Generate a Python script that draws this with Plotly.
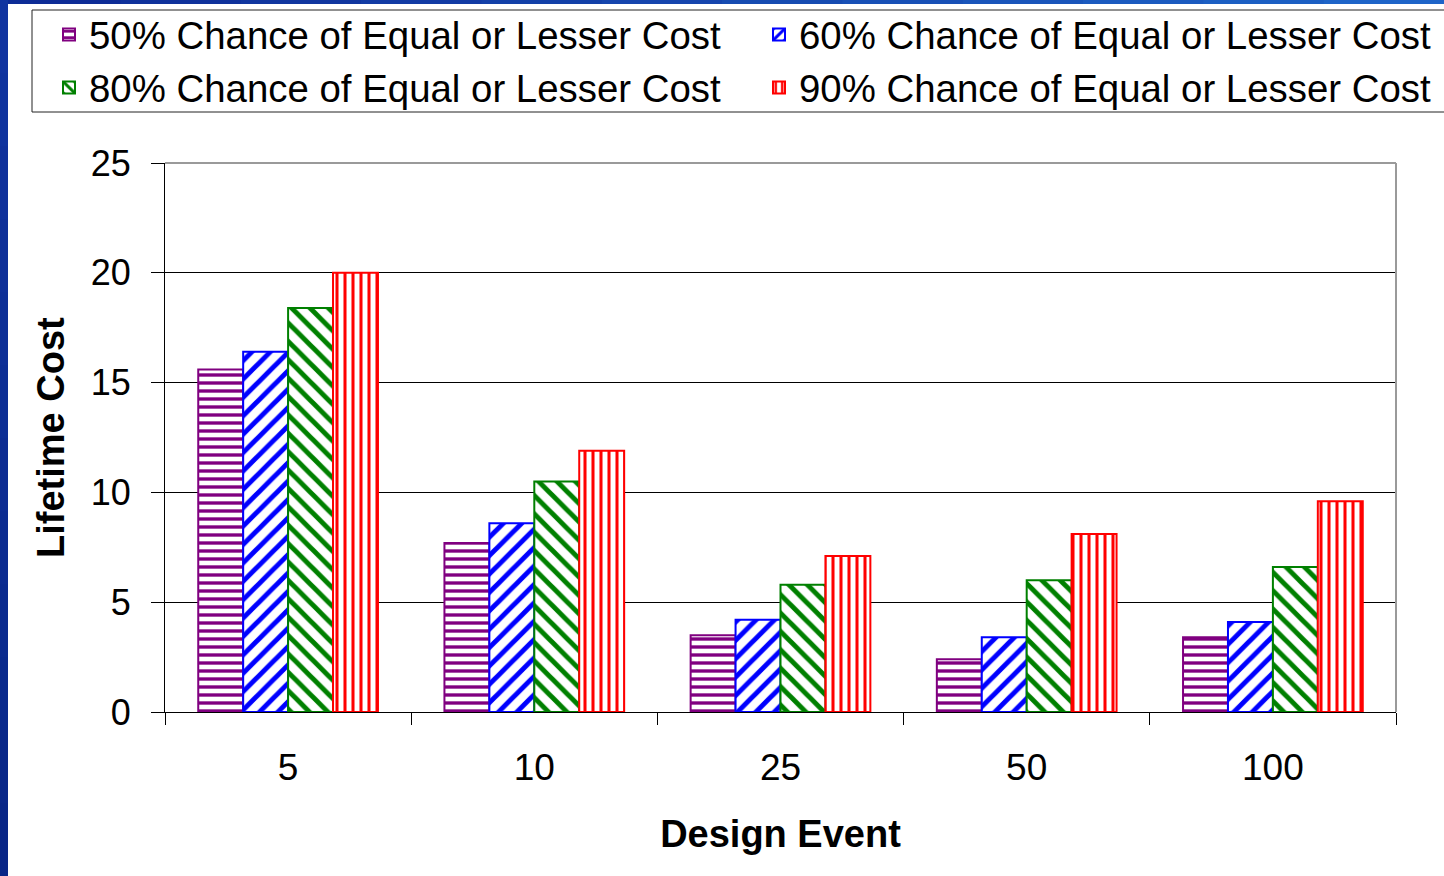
import plotly.graph_objects as go

# Design events (return period) and lifetime cost at each confidence level
design_events = ["5", "10", "25", "50", "100"]
cost_50 = [15.6, 7.7, 3.5, 2.4, 3.4]
cost_60 = [16.4, 8.6, 4.2, 3.4, 4.1]
cost_80 = [18.4, 10.5, 5.8, 6.0, 6.6]
cost_90 = [20.0, 11.9, 7.1, 8.1, 9.6]

series_names = [
    "50% Chance of Equal or Lesser Cost",
    "60% Chance of Equal or Lesser Cost",
    "80% Chance of Equal or Lesser Cost",
    "90% Chance of Equal or Lesser Cost",
]
series_values = [cost_50, cost_60, cost_80, cost_90]
series_colors = ["#800080", "#0000FF", "#008000", "#FF0000"]
series_shapes = ["-", "/", "\\", "|"]
series_sizes = [8, 13, 13, 8]
series_solidity = [0.42, 0.38, 0.38, 0.38]
# legend column for each series: left column holds 50% / 80%, right holds 60% / 90%
series_legend = ["legend", "legend2", "legend", "legend2"]

W, H = 1444, 876
ML, MR, MT, MB = 165, 48, 163, 164
PW, PH = W - ML - MR, H - MT - MB

FONT = "Liberation Sans, Arial, sans-serif"

fig = go.Figure()
for name, vals, col, shp, sz, sol, lg in zip(series_names, series_values, series_colors,
                                              series_shapes, series_sizes, series_solidity,
                                              series_legend):
    fig.add_trace(go.Bar(
        x=design_events, y=vals, name=name, legend=lg,
        marker=dict(
            color="white",
            line=dict(color=col, width=2),
            pattern=dict(shape=shp, fgcolor=col, bgcolor="white",
                         size=sz, solidity=sol, fillmode="replace"),
        ),
    ))


def px_x(p):
    return (p - ML) / PW


def px_y(p):
    return (H - MB - p) / PH


shapes = []
# legend frame
shapes.append(dict(type="rect", xref="paper", yref="paper", layer="below",
                   x0=px_x(32), x1=px_x(W + 10), y0=px_y(112), y1=px_y(10),
                   line=dict(color="#222222", width=1), fillcolor="white"))
# blue frame strips along the left and top edges
n_seg = 12
top_start, top_end = (13, 44, 150), (30, 100, 200)
for i in range(n_seg):
    t = i / (n_seg - 1)
    c = tuple(round(a + (b - a) * t) for a, b in zip(top_start, top_end))
    shapes.append(dict(type="rect", xref="paper", yref="paper", layer="above",
                       x0=px_x(W * i / n_seg), x1=px_x(W * (i + 1) / n_seg + 1),
                       y0=px_y(4), y1=px_y(0), line=dict(width=0),
                       fillcolor="rgb(%d,%d,%d)" % c))
left_top, left_bot = (16, 52, 160), (8, 38, 135)
for i in range(n_seg):
    t = i / (n_seg - 1)
    c = tuple(round(a + (b - a) * t) for a, b in zip(left_top, left_bot))
    shapes.append(dict(type="rect", xref="paper", yref="paper", layer="above",
                       x0=px_x(0), x1=px_x(8),
                       y0=px_y(H * (i + 1) / n_seg + 1), y1=px_y(H * i / n_seg),
                       line=dict(width=0), fillcolor="rgb(%d,%d,%d)" % c))
# grey plot-area border on the top and right sides
shapes.append(dict(type="line", xref="paper", yref="paper", layer="above",
                   x0=0, x1=1, y0=1, y1=1, line=dict(color="#9a9a9a", width=2)))
shapes.append(dict(type="line", xref="paper", yref="paper", layer="above",
                   x0=1, x1=1, y0=0, y1=1, line=dict(color="#9a9a9a", width=2)))

legend_common = dict(
    orientation="v",
    xref="container", yref="container",
    xanchor="left", yanchor="top",
    bgcolor="rgba(0,0,0,0)", borderwidth=0,
    font=dict(family=FONT, size=38.4, color="black"),
    indentation=17,
    traceorder="normal",
)
LEG_TOP = 3
fig.update_layout(
    width=W, height=H,
    margin=dict(l=ML, r=MR, t=MT, b=MB, autoexpand=False),
    paper_bgcolor="white", plot_bgcolor="white",
    font=dict(family=FONT, color="black"),
    barmode="group", bargap=0.27, bargroupgap=0,
    shapes=shapes,
    showlegend=True,
    legend=dict(x=32 / W, y=1 - LEG_TOP / H, **legend_common),
    legend2=dict(x=(32 + 710) / W, y=1 - LEG_TOP / H, **legend_common),
    annotations=[dict(
        text="<b>Lifetime Cost</b>", textangle=-90,
        xref="paper", yref="paper", x=px_x(51), y=px_y(438),
        xanchor="center", yanchor="middle", showarrow=False,
        font=dict(family=FONT, size=38, color="black"),
    )],
    xaxis=dict(
        type="category",
        ticks="outside", ticklen=12, tickcolor="black", tickwidth=1,
        tickson="boundaries",
        ticklabelstandoff=23,
        showline=True, linecolor="black", linewidth=1,
        showgrid=False,
        tickfont=dict(family=FONT, size=37, color="black"),
        title=dict(text="<b>Design Event</b>", standoff=32,
                   font=dict(family=FONT, size=38, color="black")),
    ),
    yaxis=dict(
        range=[0, 25], dtick=5,
        ticks="outside", ticklen=13, tickcolor="black", tickwidth=1,
        ticklabelstandoff=13,
        showline=True, linecolor="black", linewidth=1,
        showgrid=True, gridcolor="black", gridwidth=1,
        zeroline=False,
        tickfont=dict(family=FONT, size=36, color="black"),
    ),
)

fig.write_html("out.html")
